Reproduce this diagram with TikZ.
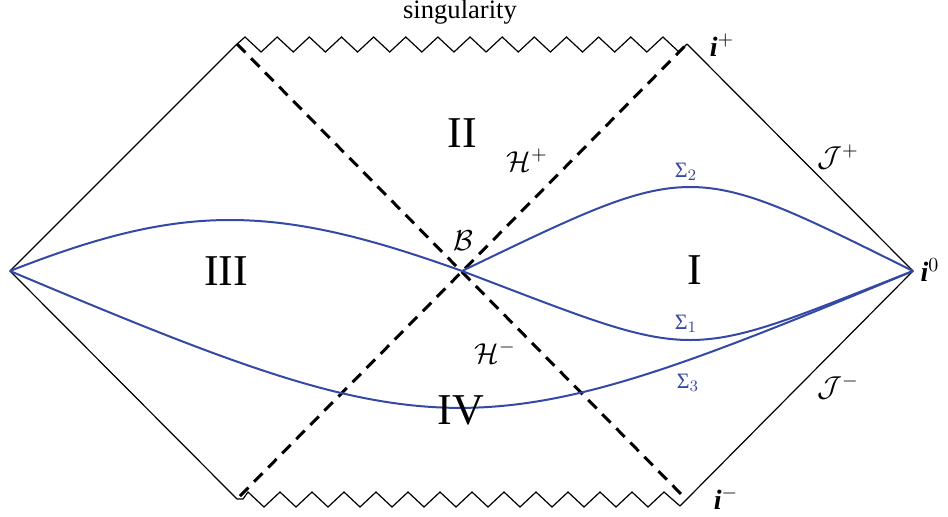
\documentclass[tikz,border=0pt]{standalone}
\usepackage{fontspec}
\setmainfont{Liberation Serif}
\definecolor{sigblue}{RGB}{52,72,165}
\begin{document}
\begin{tikzpicture}[x=0.5pt,y=-0.5pt,
  edge/.style={black,line width=0.6pt,line join=miter},
  horizon/.style={black,line width=1.5pt,dash pattern=on 6pt off 4pt},
  slice/.style={sigblue,line width=1pt},
  region/.style={font=\fontsize{22}{22}\selectfont,inner sep=0pt},
  lab/.style={font=\fontsize{14}{14}\selectfont,inner sep=0pt},
  siglab/.style={text=sigblue,font=\fontsize{11}{11}\selectfont,inner sep=0pt}]
\useasboundingbox (0,0) rectangle (948,516);
\coordinate (L) at (10,271);
\coordinate (TL) at (237,44);
\coordinate (TR) at (687,44);
\coordinate (R) at (913,271);
\coordinate (BL) at (237,499);
\coordinate (BL2) at (243,499);
\coordinate (BR) at (680,506);
\coordinate (DBL) at (240,496);
\coordinate (DBR) at (684,497);
\coordinate (B) at (462,271);
% diamond edges
\draw[edge] (TL) -- (L) -- (BL);
\draw[edge] (TR) -- (R) -- (BR);
% singularities
\draw[edge] (TL) \foreach \j in {0,...,27}{ -- ({237+8.036*(2*\j+1)},{44.5-7.5*cos(180*\j)}) } -- (TR);
\draw[edge] (BL) -- (BL2) \foreach \j in {0,...,26}{ -- ({240+8.0*(2*\j+1)},{499.5-7.5*cos(180*\j)}) } -- (BR);
% horizons
\draw[horizon] (TL) -- (DBR);
\draw[horizon] (DBL) -- (TR);
% slices
\draw[slice] (L) .. controls (183,203) and (273,203) .. (B);
\draw[slice] (B) .. controls (695,159) and (687,159) .. (R);
\draw[slice] (B) .. controls (704,363) and (678,363) .. (R);
\draw[slice] (L) .. controls (444,453.5) and (475,453.5) .. (R);
% labels
\node[font=\fontsize{13.3}{14}\selectfont,inner sep=0pt] (sing) at (460,12) {singularity};
\node[region] (rII) at (462,133) {II};
\node[region] (rIII) at (226,271) {III};
\node[region] (rI) at (695,270) {I};
\node[region] (rIV) at (461,410) {IV};
\node[lab] (Hp) at (527,160) {$\mathcal{H}^+$};
\node[lab] (Hm) at (495,352) {$\mathcal{H}^-$};
\node[lab] (Bl) at (463,241) {$\mathcal{B}$};
\node[lab] (ip) at (722,45) {\textbf{\textit{i}}$^+$};
\node[lab] (i0) at (930,270) {\textbf{\textit{i}}$^0$};
\node[lab] (im) at (726,498) {\textbf{\textit{i}}$^-$};
\node[lab] (Jp) at (838,157) {$\mathcal{J}^+$};
\node[lab] (Jm) at (838,387) {$\mathcal{J}^-$};
\node[siglab] (s2) at (686,172) {Σ$_2$};
\node[siglab] (s1) at (686,324) {Σ$_1$};
\node[siglab] (s3) at (688,383) {Σ$_3$};
\end{tikzpicture}
\end{document}
